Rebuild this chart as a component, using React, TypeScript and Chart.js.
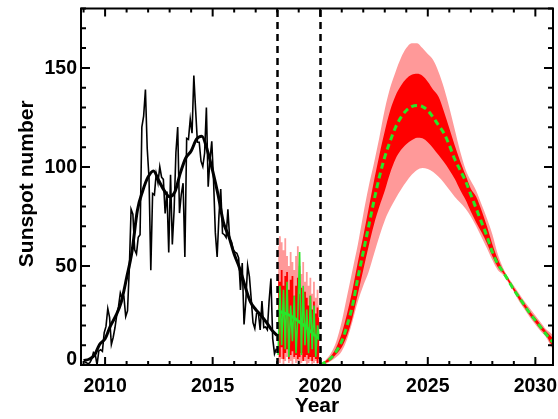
import React, { useEffect, useRef } from "react";
import { Chart, registerables } from "chart.js";

Chart.register(...registerables);

// Monthly mean sunspot number, Jan 2009 - Dec 2017
const observedStart = 2009;
const observedMonthly = [
  1.3, 1.2, 0.6, 1.2, 2.9, 6.3, 5.5, 0.0, 7.1, 7.7, 6.9, 16.3,
  19.5, 28.5, 24.0, 10.4, 13.9, 18.8, 25.2, 29.6, 36.4, 33.6, 34.4, 24.5,
  27.3, 48.3, 78.6, 76.1, 58.2, 56.1, 64.5, 65.8, 120.1, 125.7, 139.1, 109.3,
  94.4, 47.8, 86.6, 85.9, 96.5, 92.0, 100.1, 94.8, 93.7, 76.5, 87.6, 56.8,
  96.1, 60.9, 78.3, 107.3, 120.2, 76.7, 86.2, 91.8, 54.5, 114.4, 113.9, 124.2,
  117.0, 146.1, 128.7, 112.5, 112.5, 102.9, 100.2, 106.9, 130.0, 90.0, 103.6, 112.9,
  93.0, 66.7, 54.5, 75.3, 88.8, 66.5, 65.8, 64.4, 78.6, 63.6, 62.2, 58.0,
  57.0, 56.4, 54.1, 37.9, 51.5, 20.5, 32.4, 50.2, 44.6, 33.4, 21.4, 18.5,
  26.1, 26.4, 17.7, 32.3, 18.9, 19.2, 17.8, 32.6, 43.7, 13.2, 5.7, 8.2,
];

// Smoothed sunspot number, quarterly from 2009.0 to 2018.0
const smoothedStart = 2009;
const smoothedValues = [
  2.3, 2.9, 4.8, 10.5, 13.2, 19.8, 24.9, 31.8, 44.0, 57.3, 78.0, 88.0,
  95.0, 98.0, 93.0, 88.0, 85.0, 87.5, 97.0, 104.5, 108.0, 114.0, 115.5, 108.5,
  98.0, 86.0, 72.0, 65.0, 56.0, 49.0, 40.0, 32.0, 28.0, 25.0, 21.5, 17.6, 14.9,
];

// Test period 2018-2019: monthly values, smoothed curve and spread
const testStart = 2018;
const testMonthly = [
  5, 40, 10, 38, 8, 42, 4, 30, 12, 35, 6, 25,
  57, 5, 40, 10, 28, 6, 35, 8, 30, 4, 20, 13,
];
const testSmoothed = [27.5, 26.5, 25.5, 24.0, 22.0, 20.0, 17.5, 15.0, 13.0];
const testPinkHigh = [
  60, 65, 62, 58, 64, 55, 50, 57, 52, 48, 55, 60,
  50, 46, 52, 42, 47, 40, 44, 36, 42, 34, 38, 30,
];
const testPinkLow = [
  2, 1, 3, 0, 2, 4, 1, 2, 0, 3, 1, 2,
  0, 1, 3, 2, 0, 1, 2, 0, 1, 2, 0, 1,
];
const testRedHigh = [
  46, 42, 48, 40, 45, 47, 38, 43, 45, 35, 40, 44,
  36, 39, 32, 37, 34, 30, 35, 28, 32, 26, 29, 24,
];
const testRedLow = [
  7, 4, 9, 3, 6, 8, 3, 5, 7, 4, 5, 3,
  4, 6, 2, 4, 5, 3, 4, 2, 4, 3, 1, 3,
];

// Cycle 25 forecast, quarterly from 2020.0 to 2031.0
const forecastStart = 2020;
const forecastMean = [
  0, 1.5, 3.5, 7, 12, 20, 30, 44, 57, 70, 83, 95,
  105, 113, 120, 125, 128.5, 130.5, 131, 130.5, 128.5, 125, 121, 117,
  111, 104, 98.5, 93, 86, 79, 72, 65, 57, 51, 47, 42.5,
  38, 34, 30, 26, 22.5, 19, 15.5, 12.3, 10,
];
const forecastRedHigh = [
  0, 2, 4.5, 9, 16, 26, 38, 52, 65, 79, 93, 106,
  118, 128.5, 136, 141, 144.5, 146.5, 147, 146, 143, 139, 135.5, 128,
  119.5, 111, 103, 96, 89, 85, 78, 70, 61, 53.5, 48, 43.5,
  39, 35, 31, 27, 23.8, 20.3, 17, 14.3, 12,
];
const forecastRedLow = [
  0, 1, 2.5, 5.5, 9, 15, 24, 36, 48, 60, 71, 80,
  88, 97, 104, 108.5, 111.5, 113.5, 114.8, 114.5, 112.5, 109.5, 106, 102.5,
  98.5, 94, 88.5, 83.5, 77.5, 72, 67, 61.5, 55, 49.5, 46.5, 42,
  37.5, 33, 29, 25, 21.5, 18, 15, 10.3, 8.5,
];
const forecastPinkHigh = [
  0, 2.5, 6, 12, 22, 35, 48, 61, 76, 90, 102, 115,
  129, 140, 148, 155, 160, 162.5, 162.5, 160, 157, 154, 148, 140,
  130, 119, 108, 99, 93, 88, 81, 74, 66, 56, 49, 44,
  40, 36, 32, 28.5, 25, 21.5, 18, 15.8, 13,
];
const forecastPinkLow = [
  0, 0.5, 2, 4, 7, 13, 22, 32, 40, 47, 56, 65,
  73, 79, 84, 88.5, 92.5, 96, 98.5, 99.5, 99, 97.5, 95, 92,
  88.5, 85, 82, 79, 75, 70, 64.5, 59, 53, 48, 45.5, 41.5,
  37, 32, 28, 24, 20.5, 17, 14, 9, 7,
];

const xTickLabels = ["2010", "2015", "2020", "2025", "2030"];
const yTickLabels = ["0", "50", "100", "150"];
const dividerYears = [2018, 2020];

const X_MIN = 2008.88;
const X_MAX = 2030.82;
const Y_MIN = 0;
const Y_MAX = 180;

const PINK = "#ff9999";
const RED = "#ff0000";
const GREEN = "rgb(40, 230, 40)";
const FONT = '"Liberation Sans", Arial, Helvetica, sans-serif';

const monthly = (start: number, values: number[]) =>
  values.map((v, i) => ({ x: start + (i + 0.5) / 12, y: v }));
const quarterly = (start: number, values: number[]) =>
  values.map((v, i) => ({ x: start + i * 0.25, y: v }));

const axesPlugin = {
  id: "idlAxes",
  afterDatasetsDraw(chart: any) {
    const { ctx, chartArea: a, scales } = chart;
    const xs = scales.x;
    const ys = scales.y;
    ctx.save();

    // dashed dividers
    ctx.strokeStyle = "#000";
    ctx.lineWidth = 2.5;
    ctx.setLineDash([7, 5]);
    dividerYears.forEach((yr) => {
      const px = Math.round(xs.getPixelForValue(yr)) + 0.5;
      ctx.beginPath();
      ctx.moveTo(px, a.bottom);
      ctx.lineTo(px, a.top);
      ctx.stroke();
    });
    ctx.setLineDash([]);

    // frame
    ctx.lineWidth = 2;
    ctx.strokeRect(a.left, a.top, a.right - a.left, a.bottom - a.top);

    // x ticks, minor each year
    ctx.beginPath();
    for (let yr = Math.ceil(X_MIN); yr <= X_MAX; yr++) {
      const px = xs.getPixelForValue(yr);
      const len = yr % 5 === 0 ? 8 : 4;
      ctx.moveTo(px, a.bottom);
      ctx.lineTo(px, a.bottom - len);
      ctx.moveTo(px, a.top);
      ctx.lineTo(px, a.top + len);
    }
    // y ticks, minor each 10
    for (let v = Y_MIN; v <= Y_MAX; v += 10) {
      const py = ys.getPixelForValue(v);
      const len = v % 50 === 0 ? 9 : 5;
      ctx.moveTo(a.left, py);
      ctx.lineTo(a.left + len, py);
      ctx.moveTo(a.right, py);
      ctx.lineTo(a.right - len, py);
    }
    ctx.stroke();

    // tick labels
    ctx.fillStyle = "#000";
    ctx.font = `bold 19.5px ${FONT}`;
    ctx.textAlign = "center";
    ctx.textBaseline = "alphabetic";
    xTickLabels.forEach((t) => {
      ctx.fillText(t, xs.getPixelForValue(Number(t)), a.bottom + 26.5);
    });
    ctx.textAlign = "right";
    ctx.textBaseline = "middle";
    yTickLabels.forEach((t) => {
      const v = Number(t);
      let py = ys.getPixelForValue(v);
      if (v === Y_MIN) py -= 6;
      ctx.fillText(t, a.left - 4, py + 1);
    });

    // axis titles
    ctx.font = `bold 21px ${FONT}`;
    ctx.textAlign = "center";
    ctx.textBaseline = "alphabetic";
    ctx.fillText("Year", (a.left + a.right) / 2, a.bottom + 47);
    ctx.save();
    ctx.translate(32.5, (a.top + a.bottom) / 2 - 3);
    ctx.rotate(-Math.PI / 2);
    ctx.fillText("Sunspot number", 0, 0);
    ctx.restore();

    ctx.restore();
  },
};

export default function App() {
  const canvasRef = useRef<HTMLCanvasElement | null>(null);

  useEffect(() => {
    const canvas = canvasRef.current;
    if (!canvas) return;

    const band = (data: any[], color: string, fill: any, order: number, stepped: any = false) => ({
      type: "line",
      data,
      borderWidth: 0,
      borderColor: "rgba(0,0,0,0)",
      backgroundColor: color,
      pointRadius: 0,
      fill,
      stepped,
      cubicInterpolationMode: stepped ? "default" : "monotone",
      order,
    });

    const chart = new Chart(canvas, {
      type: "line",
      data: {
        datasets: [
          band(quarterly(forecastStart, forecastPinkHigh), PINK, 1, 20),
          band(quarterly(forecastStart, forecastPinkLow), PINK, false, 19),
          band(quarterly(forecastStart, forecastRedHigh), RED, 3, 18),
          band(quarterly(forecastStart, forecastRedLow), RED, false, 17),
          {
            type: "line",
            data: quarterly(forecastStart, forecastMean),
            borderColor: GREEN,
            borderWidth: 3,
            borderDash: [6, 4],
            pointRadius: 0,
            fill: false,
            cubicInterpolationMode: "monotone",
            order: 16,
          },
          band(monthly(testStart, testPinkHigh), PINK, 6, 15, "middle"),
          band(monthly(testStart, testPinkLow), PINK, false, 14, "middle"),
          band(monthly(testStart, testRedHigh), RED, 8, 13, "middle"),
          band(monthly(testStart, testRedLow), RED, false, 12, "middle"),
          {
            type: "line",
            data: monthly(observedStart, observedMonthly),
            borderColor: "#000",
            borderWidth: 1.6,
            pointRadius: 0,
            fill: false,
            order: 11,
          },
          {
            type: "line",
            data: quarterly(smoothedStart, smoothedValues),
            borderColor: "#000",
            borderWidth: 3,
            pointRadius: 0,
            fill: false,
            cubicInterpolationMode: "monotone",
            order: 10,
          },
          {
            type: "line",
            data: monthly(testStart, testMonthly),
            borderColor: GREEN,
            borderWidth: 1.6,
            pointRadius: 0,
            fill: false,
            order: 9,
          },
          {
            type: "line",
            data: quarterly(testStart, testSmoothed),
            borderColor: GREEN,
            borderWidth: 3,
            pointRadius: 0,
            fill: false,
            cubicInterpolationMode: "monotone",
            order: 8,
          },
        ] as any,
      },
      options: {
        responsive: false,
        animation: false,
        devicePixelRatio: 1,
        layout: { padding: { left: 81, right: 5, top: 8.5, bottom: 54 } },
        scales: {
          x: { type: "linear", min: X_MIN, max: X_MAX, display: false },
          y: { type: "linear", min: Y_MIN, max: Y_MAX, display: false },
        },
        plugins: {
          legend: { display: false },
          tooltip: { enabled: false },
        },
        elements: { line: { tension: 0 } },
      } as any,
      plugins: [axesPlugin],
    });

    return () => chart.destroy();
  }, []);

  return (
    <div style={{ position: "fixed", left: 0, top: 0, width: 558, height: 419, background: "#fff" }}>
      <canvas ref={canvasRef} width={558} height={419} />
    </div>
  );
}
